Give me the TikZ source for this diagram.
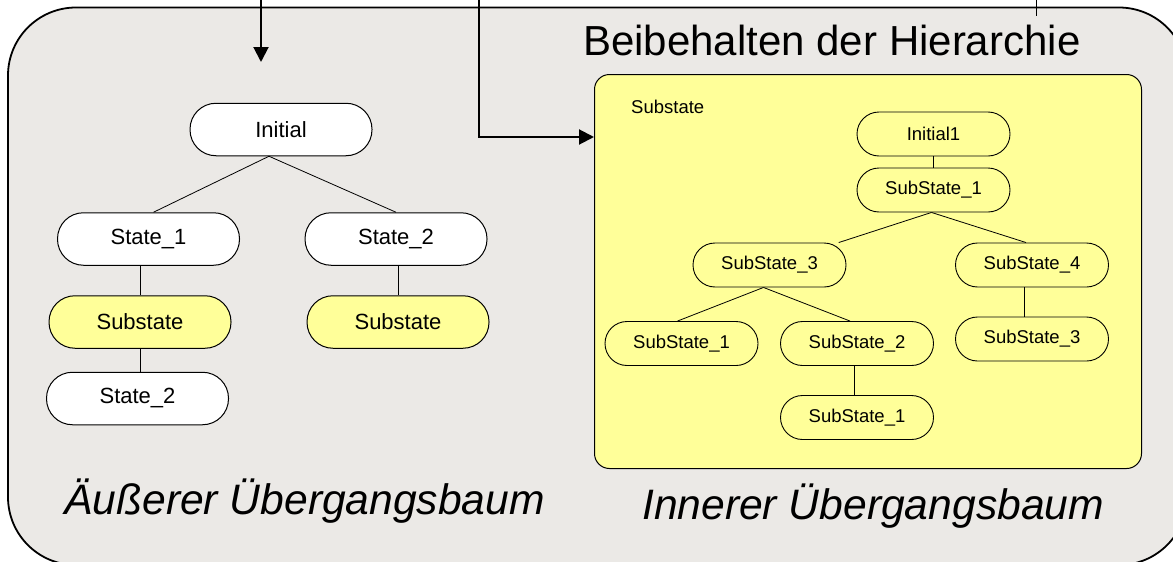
\documentclass[tikz,border=0pt]{standalone}
\usepackage{fontspec}
\setmainfont{Liberation Sans}
\usetikzlibrary{arrows.meta}
\definecolor{panelgray}{RGB}{235,233,230}
\definecolor{stateyellow}{RGB}{255,255,153}

\begin{document}
\begin{tikzpicture}[x=1pt,y=-1pt,
  outerstate/.style={draw, line width=1pt, fill=white, rounded corners=26pt,
    minimum width=182pt, minimum height=52.5pt, inner sep=0pt,
    font=\fontsize{22}{26}\selectfont},
  outersub/.style={outerstate, fill=stateyellow},
  innerstate/.style={draw, line width=0.9pt, fill=stateyellow, rounded corners=22pt,
    minimum width=153pt, minimum height=44pt, inner sep=0pt,
    font=\fontsize{18.5}{22}\selectfont},
  treeedge/.style={line width=0.8pt},
  feed/.style={line width=2pt},
  bigtext/.style={font=\fontsize{42}{48}\selectfont, inner sep=0pt, anchor=base west},
  captiontext/.style={font=\fontsize{42.6}{48}\selectfont\itshape, inner sep=0pt, anchor=base west},
  tip/.style={-{Triangle[length=15pt,width=15pt]}}
]
\useasboundingbox (0,0) rectangle (1173,562);

% grey frame holding both trees
\draw[line width=1.8pt, fill=panelgray, rounded corners=68pt] (8,7.5) rectangle (1187,565);

% incoming lines from above
\coordinate (in1) at (261,0);
\coordinate (in1end) at (261,62);
\coordinate (in2) at (479,0);
\coordinate (in2level) at (0,137);
\coordinate (in3) at (1036,0);
\coordinate (in3end) at (1036,16);

\node[bigtext] (title) at (583,55) {Beibehalten der Hierarchie};

% yellow composite state
\node[draw, line width=1pt, fill=stateyellow, rounded corners=15pt,
      minimum width=547pt, minimum height=394pt, inner sep=0pt, anchor=north west]
      (inner) at (594,74) {};
\node[font=\fontsize{18.5}{22}\selectfont, inner sep=0pt, anchor=base west]
      (innerlabel) at (631,113) {Substate};

\draw[feed,tip] (in1) -- (in1end);
\draw[feed,tip] (in2) |- (inner.west |- in2level);
\draw[line width=1pt] (in3) -- (in3end);

% outer transition tree
\node[outerstate] (init) at (281,129.5) {Initial};
\node[outerstate] (st1)  at (148.5,239) {State\_1};
\node[outerstate] (st2)  at (396,239) {State\_2};
\node[outersub]   (sub1) at (140,322) {Substate};
\node[outersub]   (sub2) at (398,322) {Substate};
\node[outerstate] (st2b) at (137.5,398.5) {State\_2};

\draw[treeedge] ([xshift=-12pt]init.south) -- ([xshift=5pt]st1.north);
\draw[treeedge] ([xshift=-12pt]init.south) -- (st2.north);
\draw[treeedge] (sub1.north) -- (sub1.north |- st1.south);
\draw[treeedge] (sub1.south) -- (sub1.south |- st2b.north);
\draw[treeedge] (sub2.north) -- (sub2.north |- st2.south);

% inner transition tree
\node[innerstate] (ini1)  at (933.5,134) {Initial1};
\node[innerstate] (ss1)   at (933.5,190) {SubState\_1};
\node[innerstate] (ss3)   at (769.5,265) {SubState\_3};
\node[innerstate] (ss4)   at (1032,265) {SubState\_4};
\node[innerstate] (ss31)  at (681.5,343.5) {SubState\_1};
\node[innerstate] (ss32)  at (857,343.5) {SubState\_2};
\node[innerstate] (ss41)  at (1032,339) {SubState\_3};
\node[innerstate] (ss321) at (857,417.5) {SubState\_1};

\draw[treeedge] (ini1.south) -- (ss1.north);
\draw[treeedge] ([xshift=-2pt]ss1.south) -- (ss3);
\draw[treeedge] ([xshift=-2pt]ss1.south) -- ([xshift=-6pt]ss4.north);
\draw[treeedge] ([xshift=-6pt]ss3.south) -- ([xshift=-4pt]ss31.north);
\draw[treeedge] ([xshift=-6pt]ss3.south) -- ([xshift=-7pt]ss32.north);
\draw[treeedge] ([xshift=-8pt]ss4.south) -- ([xshift=-8pt]ss41.north);
\draw[treeedge] ([xshift=-3pt]ss32.south) -- ([xshift=-3pt]ss321.north);

% captions
\node[captiontext] (outercap) at (64,514) {Äußerer Übergangsbaum};
\node[captiontext] (innercap) at (642,519) {Innerer Übergangsbaum};
\end{tikzpicture}
\end{document}
